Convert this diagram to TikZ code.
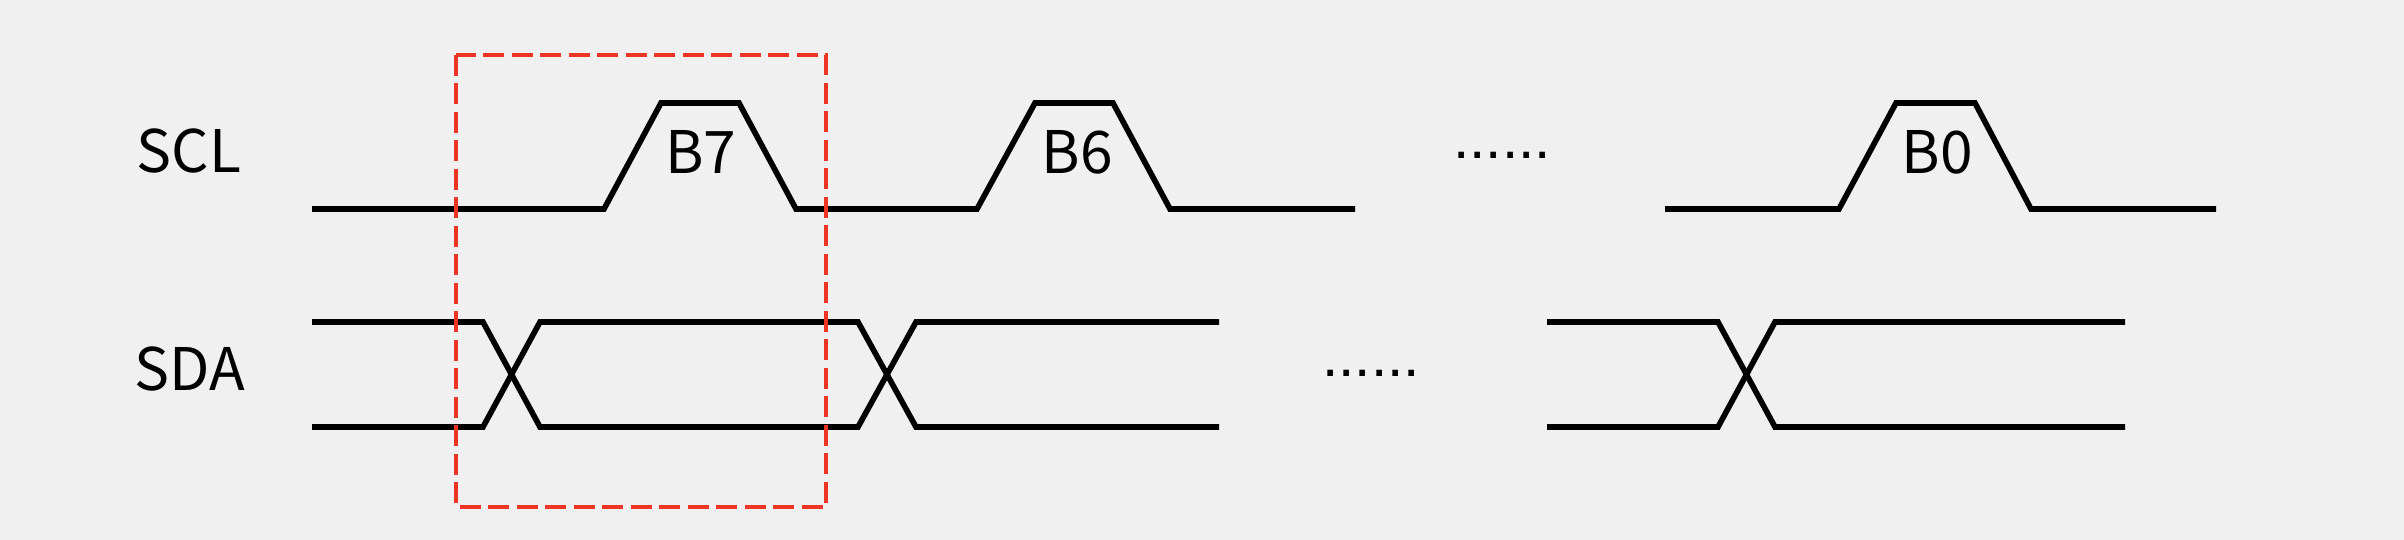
\documentclass[tikz,border=0pt]{standalone}
\usepackage{fontspec}
\setmainfont{Noto Sans CJK SC}
\newfontfamily\dotfont{Liberation Sans}
\usepackage{xcolor}
\usetikzlibrary{positioning}
\definecolor{bgGray}{HTML}{F0F0F0}
\definecolor{frameRed}{HTML}{EE3524}

\begin{document}
\begin{tikzpicture}[x=0.1mm, y=-0.1mm,
      every node/.style={font=\fontsize{16.7pt}{20pt}\selectfont, inner sep=0pt},
      sig/.style={anchor=base},
      gap/.style={font=\dotfont\fontsize{16.7pt}{20pt}\selectfont},
      wave/.style={line width=1.6pt, black},
      bitframe/.style={draw=frameRed, line width=1pt,
                       dash pattern=on 2.1mm off 0.75mm},
    ]
      \fill[bgGray] (0,0) rectangle (2404,540);
      \useasboundingbox (0,0) rectangle (2404,540);

      % signal names
      \node[sig] (scl) at (189,173) {SCL};
      \node[sig] (sda) at (190,391) {SDA};

      % clock pulses
      \draw[wave] (312,209) -- (604,209) -- (661,103) -- (739,103) -- (796,209)
        -- (977,209) -- (1035,103) -- (1113,103) -- (1170,209) -- (1355,209);
      \draw[wave] (1665,209) -- (1839,209) -- (1896,103) -- (1975,103)
        -- (2031,209) -- (2216,209);
      \node[sig] (b7) at (701,174) {B7};
      \node[sig] (b6) at (1077,174) {B6};
      \node[sig] (b0) at (1937,174) {B0};
      \node[gap] (sclgap) at (1502,155) {......};

      % data transitions
      \draw[wave] (312,322) -- (483,322) -- (540,427) -- (858,427) -- (916,322)
        -- (1219,322);
      \draw[wave] (312,427) -- (483,427) -- (540,322) -- (858,322) -- (916,427)
        -- (1219,427);
      \draw[wave] (1547,322) -- (1718,322) -- (1775,427) -- (2125,427);
      \draw[wave] (1547,427) -- (1718,427) -- (1775,322) -- (2125,322);
      \node[gap] (sdagap) at (1371,373) {......};

      % one bit
      \draw[bitframe] (456,55) rectangle (826,507);
    \end{tikzpicture}
\end{document}
